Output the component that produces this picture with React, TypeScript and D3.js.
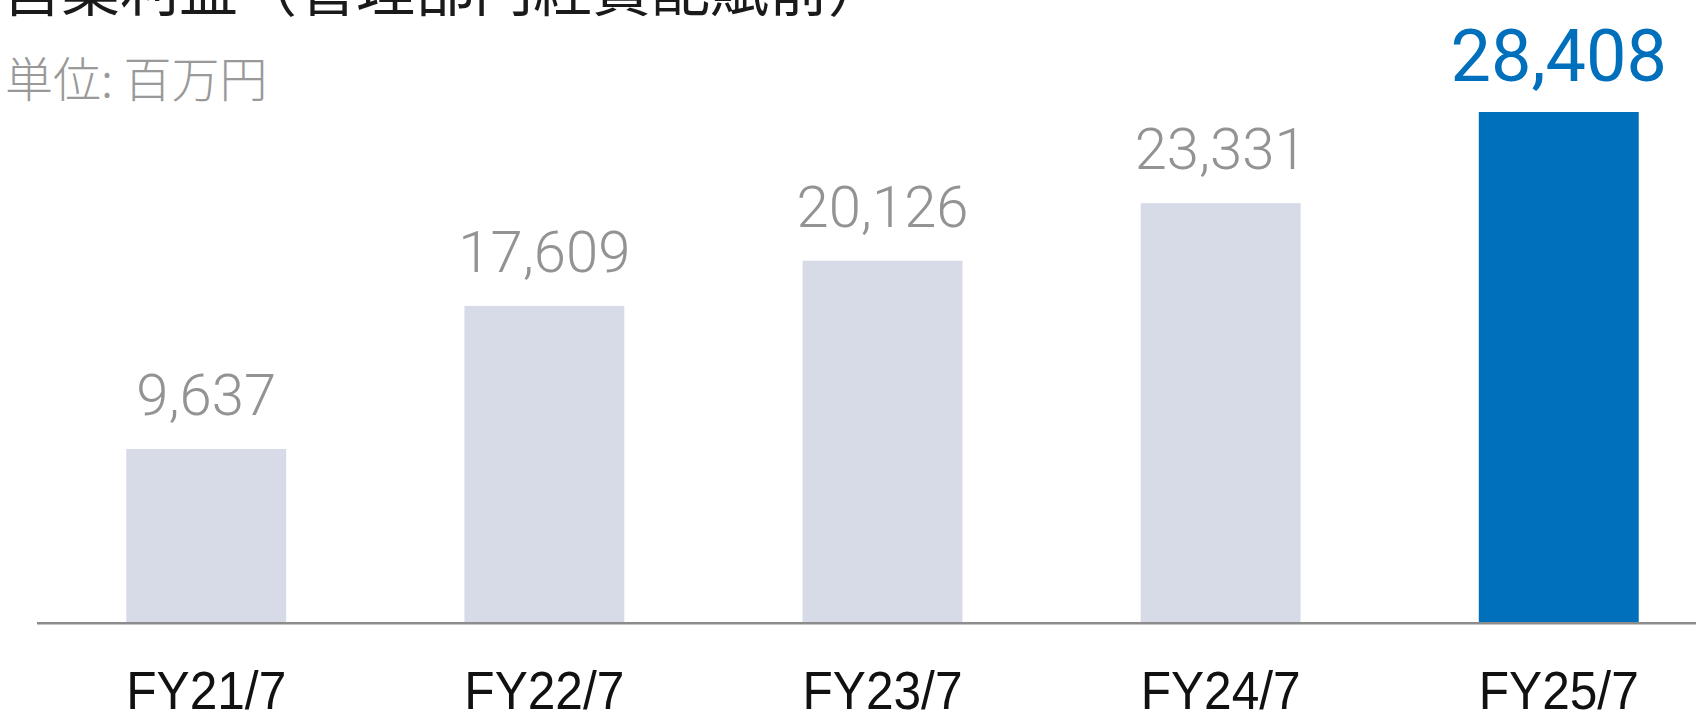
import React, { useRef, useEffect } from "react";
import * as d3 from "d3";

const categories = ["FY21/7", "FY22/7", "FY23/7", "FY24/7", "FY25/7"];
const values = [9637, 17609, 20126, 23331, 28408];

const title = "営業利益（管理部門経費配賦前）";
const unitLabel = "単位: 百万円";

const WIDTH = 1696;
const HEIGHT = 721;

const App = () => {
  const ref = useRef<SVGSVGElement>(null);

  useEffect(() => {
    const svg = d3.select(ref.current).attr("width", WIDTH).attr("height", HEIGHT);
    svg.selectAll("*").remove();

    const baseline = 622;

    const x = d3
      .scaleBand<string>()
      .domain(categories)
      .range([37, 1728])
      .paddingInner(0.527)
      .paddingOuter(0.264);

    const y = d3.scaleLinear().domain([0, 28408]).range([baseline, 112]);

    const last = categories.length - 1;

    // bars
    svg
      .append("g")
      .selectAll("rect")
      .data(values)
      .join("rect")
      .attr("x", (d, i) => x(categories[i])!)
      .attr("y", (d) => y(d))
      .attr("width", x.bandwidth())
      .attr("height", (d) => baseline - y(d))
      .attr("fill", (d, i) => (i === last ? "#0070BC" : "#D7DBE8"));

    // baseline axis
    svg
      .append("line")
      .attr("x1", 37)
      .attr("x2", WIDTH)
      .attr("y1", baseline + 1.2)
      .attr("y2", baseline + 1.2)
      .attr("stroke", "#8c8c8c")
      .attr("stroke-width", 2.5);

    // value labels
    svg
      .append("g")
      .selectAll("text")
      .data(values)
      .join("text")
      .attr("x", (d, i) => x(categories[i])! + x.bandwidth() / 2)
      .attr("y", (d, i) => y(d) - (i === last ? 31 : 34))
      .attr("text-anchor", "middle")
      .attr("font-family", "'Helvetica Neue', Roboto, 'Liberation Sans', Arial, sans-serif")
      .attr("font-weight", (d, i) => (i === last ? 400 : 300))
      .attr("font-size", (d, i) => (i === last ? "72px" : "58px"))
      .attr("fill", (d, i) => (i === last ? "#0070BC" : "#939393"))
      .text((d) => d3.format(",")(d));

    // category labels
    svg
      .append("g")
      .selectAll("text")
      .data(categories)
      .join("text")
      .attr("x", (d) => x(d)! + x.bandwidth() / 2)
      .attr("y", 709)
      .attr("text-anchor", "middle")
      .attr("font-family", "'Helvetica Neue', 'Liberation Sans', Arial, sans-serif")
      .attr("font-size", "53px")
      .attr("textLength", 160)
      .attr("lengthAdjust", "spacingAndGlyphs")
      .attr("fill", "#111")
      .text((d) => d);

    // title (cut at the top edge) and unit
    svg
      .append("text")
      .attr("x", 2)
      .attr("y", 11)
      .attr("font-family", "'Noto Sans CJK JP', sans-serif")
      .attr("font-size", "59px")
      .attr("fill", "#1a1a1a")
      .text(title);

    svg
      .append("text")
      .attr("x", 5)
      .attr("y", 97)
      .attr("font-family", "'Noto Sans CJK JP', sans-serif")
      .attr("font-weight", 300)
      .attr("font-size", "48px")
      .attr("fill", "#999")
      .text(unitLabel);
  }, []);

  return (
    <svg
      ref={ref}
      style={{ position: "absolute", top: 0, left: 0, display: "block", background: "#fff" }}
    ></svg>
  );
};

export default App;
